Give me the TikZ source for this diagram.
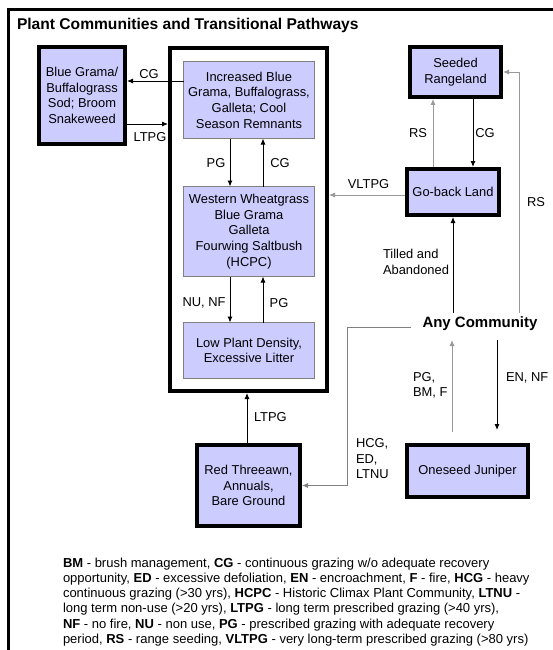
\documentclass[tikz,border=0pt]{standalone}
\usepackage{fontspec}
\setmainfont{Liberation Sans}
\usetikzlibrary{arrows.meta}
\definecolor{boxfill}{HTML}{CCCCFF}
\definecolor{lgray}{HTML}{999999}
\definecolor{bgray}{HTML}{808080}
\begin{document}
\begin{tikzpicture}[x=1pt,y=-1pt,
  every node/.style={inner sep=0pt, outer sep=0pt},
  lbl/.style={font=\fontsize{12.9}{15.5}\selectfont, align=left},
  thickbox/.style={draw=black, line width=4.4pt, outer sep=2.2pt, fill=boxfill, align=center, font=\fontsize{12.9}{15.6}\selectfont},
  thinbox/.style={draw=bgray, line width=0.9pt, fill=boxfill, align=center, font=\fontsize{12.9}{15.6}\selectfont},
  conn/.style={line width=0.9pt, -{Latex[length=6pt,width=5pt]}},
  gconn/.style={conn, draw=lgray},
]
\useasboundingbox (0,0) rectangle (552,650);
\fill[white] (0,0) rectangle (552,650);
\draw[line width=3pt] (8,10) rectangle (600,700);

\node[anchor=base west, font=\bfseries\fontsize{15.6}{18}\selectfont] (title) at (17,29.5) {Plant Communities and Transitional Pathways};

% boxes
\node[thickbox, minimum width=85.6pt, minimum height=96.6pt] (bg) at (82,95.5) {Blue Grama/\\Buffalograss\\Sod; Broom\\Snakeweed};
\node[draw, line width=4.4pt, outer sep=2.2pt, minimum width=156.6pt, minimum height=342.6pt] (big) at (248.5,219.5) {};
\node[thinbox, minimum width=131pt, minimum height=77pt] (inc) at (249,100) {Increased Blue\\Grama, Buffalograss,\\Galleta; Cool\\Season Remnants};
\node[thinbox, minimum width=131pt, minimum height=90pt] (wwg) at (249,231.5) {Western Wheatgrass\\Blue Grama\\Galleta\\Fourwing Saltbush\\(HCPC)};
\node[thinbox, minimum width=131pt, minimum height=56pt] (low) at (249,350.5) {Low Plant Density,\\Excessive Litter};
\node[thickbox, minimum width=90.6pt, minimum height=49.6pt] (seed) at (455.5,72) {Seeded\\Rangeland};
\node[thickbox, minimum width=91.6pt, minimum height=45.6pt] (goback) at (453,192) {Go-back Land};
\node[thickbox, minimum width=120.6pt, minimum height=51.6pt] (one) at (467.5,471) {Oneseed Juniper};
\node[thickbox, minimum width=102.6pt, minimum height=80.6pt] (red) at (248.5,485.5) {Red Threeawn,\\Annuals,\\Bare Ground};
\node[font=\bfseries\fontsize{15}{18}\selectfont] (anyc) at (480,324) {Any Community};

% left connectors
\draw[conn] (inc.west |- 0,81) -- (bg.east |- 0,81);
\node[lbl] (lcga) at (149,74) {CG};
\draw[conn] (bg.east |- 0,124) -- (big.west |- 0,124);
\node[lbl] (lltpga) at (150,137) {LTPG};
\draw[conn] (inc.south -| 230,0) -- (wwg.north -| 230,0);
\node[lbl] (lpga) at (216,163) {PG};
\draw[conn] (wwg.north -| 263,0) -- (inc.south -| 263,0);
\node[lbl] (lcgb) at (280,163) {CG};
\draw[conn] (wwg.south -| 230,0) -- (low.north -| 230,0);
\node[lbl] (lnunf) at (204,303) {NU, NF};
\draw[conn] (low.north -| 263,0) -- (wwg.south -| 263,0);
\node[lbl] (lpgb) at (279,303) {PG};
\draw[conn] (red.north -| 247,0) -- (big.south -| 247,0);
\node[lbl, anchor=west] (lltpgb) at (254,417) {LTPG};

% right connectors
\draw[gconn] (goback.north -| 433,0) -- (seed.south -| 433,0);
\node[lbl] (lrsa) at (418,133) {RS};
\draw[conn] (seed.south -| 473,0) -- (goback.north -| 473,0);
\node[lbl] (lcgc) at (485,133) {CG};
\coordinate (rsfoot) at (519,313);
\draw[gconn] (rsfoot) |- (seed.east);
\node[lbl] (lrsb) at (536,202) {RS};
\draw[gconn] (goback.west |- 0,195) -- (big.east |- 0,195);
\node[lbl] (lvltpg) at (368.5,184) {VLTPG};
\coordinate (tillfoot) at (453,313);
\draw[conn] (tillfoot) -- (goback.south -| tillfoot);
\node[lbl, anchor=west] (ltill) at (383,262) {Tilled and\\Abandoned};
\coordinate (hcgstart) at (411,327);
\coordinate (hcgbend) at (347,327);
\draw[gconn, draw=bgray] (hcgstart) -- (hcgbend) |- (red.east);
\node[lbl, anchor=west] (lhcg) at (356,459) {HCG,\\ED,\\LTNU};
\coordinate (pgfoot) at (452,432);
\coordinate (pgtop) at (452,340);
\draw[gconn] (pgfoot) -- (pgtop);
\node[lbl, anchor=west] (lpgbm) at (413,385.5) {PG,\\BM, F};
\coordinate (entop) at (497,340);
\coordinate (enfoot) at (497,430);
\draw[conn] (entop) -- (enfoot);
\node[lbl, anchor=west] (lennf) at (506,378) {EN, NF};

% legend
\node[anchor=base west, align=left, font=\fontsize{13}{15.3}\selectfont] (legend) at (63,643.5) {\textbf{BM} - brush management, \textbf{CG} - continuous grazing w/o adequate recovery\\
opportunity, \textbf{ED} - excessive defoliation, \textbf{EN} - encroachment, \textbf{F} - fire, \textbf{HCG} - heavy\\
continuous grazing (>30 yrs), \textbf{HCPC} - Historic Climax Plant Community, \textbf{LTNU} -\\
long term non-use (>20 yrs), \textbf{LTPG} - long term prescribed grazing (>40 yrs),\\
\textbf{NF} - no fire, \textbf{NU} - non use, \textbf{PG} - prescribed grazing with adequate recovery\\
period, \textbf{RS} - range seeding, \textbf{VLTPG} - very long-term prescribed grazing (>80 yrs)};
\end{tikzpicture}
\end{document}
